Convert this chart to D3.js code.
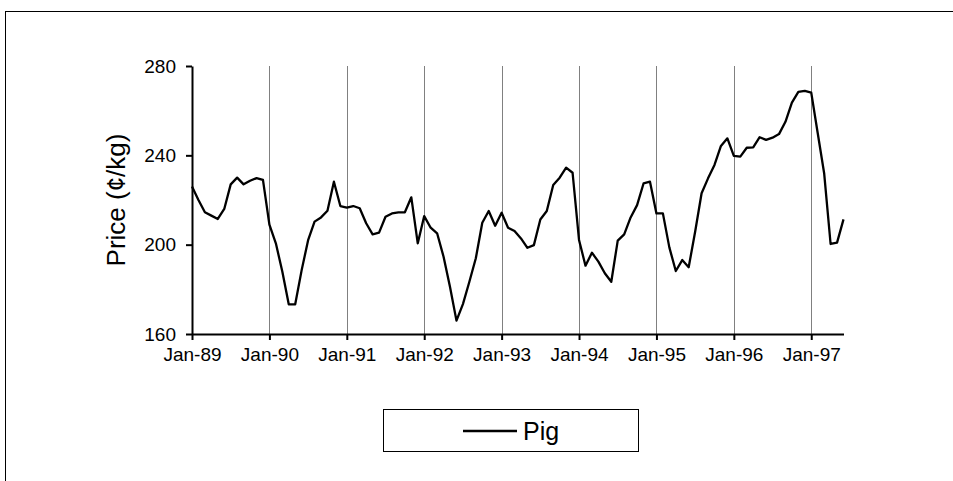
<!DOCTYPE html>
<html>
<head>
<meta charset="utf-8">
<script src="https://cdn.jsdelivr.net/npm/d3@7"></script>
<style>
  html, body { margin: 0; padding: 0; background: #fff; }
  svg { display: block; font-family: "Liberation Sans", Arial, sans-serif; }
</style>
</head>
<body>
<svg id="chart" width="953" height="481"></svg>
<script>
// Monthly pig price (¢/kg), Jan-89 .. Jun-97
const pigPrice = [
  226, 220, 214.5, 213, 211.5, 216, 227, 230, 227, 228.6, 229.8, 229,
  209, 200.6, 188, 173.3, 173.3, 188.6, 202, 210.3, 212.2, 215.2, 228.2, 217.3,
  216.6, 217.3, 216.3, 209.6, 204.6, 205.4, 212.5, 214, 214.5, 214.5, 221.2, 200.6,
  212.8, 207.6, 205.1, 194.6, 181, 166, 173.4, 183.4, 193.9, 209.8, 215.1, 208.5,
  214.3, 207.6, 206.1, 202.8, 198.6, 199.8, 211.3, 215.1, 226.7, 230, 234.5, 232.2,
  202.1, 190.6, 196.4, 192.4, 187.2, 183.4, 201.8, 204.6, 212.2, 217.7, 227.4, 228.2,
  214, 214, 198.8, 188.2, 193.1, 189.9, 205.8, 223, 229.7, 235.7, 244.2, 247.6,
  239.8, 239.4, 243.4, 243.6, 248.1, 246.9, 247.9, 249.5, 255, 263.6, 268.4, 268.9,
  268.1, 250, 232, 200.3, 200.9, 211.3
];
const xTickMonths = [0, 12, 24, 36, 48, 60, 72, 84, 96];
const xTickLabels = ["Jan-89", "Jan-90", "Jan-91", "Jan-92", "Jan-93", "Jan-94", "Jan-95", "Jan-96", "Jan-97"];
const yTicks = [160, 200, 240, 280];
const seriesName = "Pig";
const yTitle = "Price (\u00A2/kg)";

const svg = d3.select("#chart");

// outer chart border (extends past right/bottom edges)
svg.append("rect")
  .attr("x", 5.5).attr("y", 11.5)
  .attr("width", 1000).attr("height", 500)
  .attr("fill", "none").attr("stroke", "#000").attr("stroke-width", 1);

const x = d3.scaleLinear().domain([0, pigPrice.length - 1]).range([192, 843.5]);
const y = d3.scaleLinear().domain([160, 280]).range([334, 66]);

// vertical gridlines
svg.append("g").selectAll("line")
  .data(xTickMonths.slice(1))
  .join("line")
  .attr("x1", d => Math.round(x(d)) + 0.5).attr("x2", d => Math.round(x(d)) + 0.5)
  .attr("y1", y(280)).attr("y2", y(160))
  .attr("stroke", "#808080").attr("stroke-width", 1);

// data line
const line = d3.line().x((d, i) => x(i)).y(d => y(d));
svg.append("path")
  .datum(pigPrice)
  .attr("d", line)
  .attr("fill", "none")
  .attr("stroke", "#000")
  .attr("stroke-width", 2.3)
  .attr("stroke-linejoin", "round");

// x axis
const xAxis = d3.axisBottom(x)
  .tickValues(xTickMonths)
  .tickFormat((d, i) => xTickLabels[i])
  .tickSize(6).tickSizeOuter(0).tickPadding(8);
const gx = svg.append("g").attr("transform", `translate(0,${y(160)})`).call(xAxis);
gx.select(".domain").attr("stroke", "#000").attr("stroke-width", 2);
gx.selectAll(".tick line").attr("stroke", "#000").attr("stroke-width", 2);
gx.selectAll(".tick text").attr("font-size", 19).attr("fill", "#000")
  .attr("font-family", "Liberation Sans, Arial, sans-serif");

// y axis
const yAxis = d3.axisLeft(y).tickValues(yTicks).tickSize(6).tickSizeOuter(0).tickPadding(10);
const gy = svg.append("g").attr("transform", `translate(${x(0)},0)`).call(yAxis);
gy.select(".domain").attr("stroke", "#000").attr("stroke-width", 2);
gy.selectAll(".tick line").attr("stroke", "#000").attr("stroke-width", 2);
gy.selectAll(".tick text").attr("font-size", 19).attr("fill", "#000")
  .attr("font-family", "Liberation Sans, Arial, sans-serif");

// y title
svg.append("text")
  .attr("transform", "translate(125,200) rotate(-90)")
  .attr("text-anchor", "middle")
  .attr("font-size", 26)
  .attr("fill", "#000")
  .text(yTitle);

// legend
const lg = svg.append("g");
lg.append("rect")
  .attr("x", 383.5).attr("y", 409.5).attr("width", 255).attr("height", 42)
  .attr("fill", "#fff").attr("stroke", "#000").attr("stroke-width", 1);
lg.append("line")
  .attr("x1", 463).attr("x2", 517).attr("y1", 431).attr("y2", 431)
  .attr("stroke", "#000").attr("stroke-width", 2.3);
lg.append("text")
  .attr("x", 523).attr("y", 440)
  .attr("font-size", 25).attr("fill", "#000")
  .text(seriesName);
</script>
</body>
</html>
